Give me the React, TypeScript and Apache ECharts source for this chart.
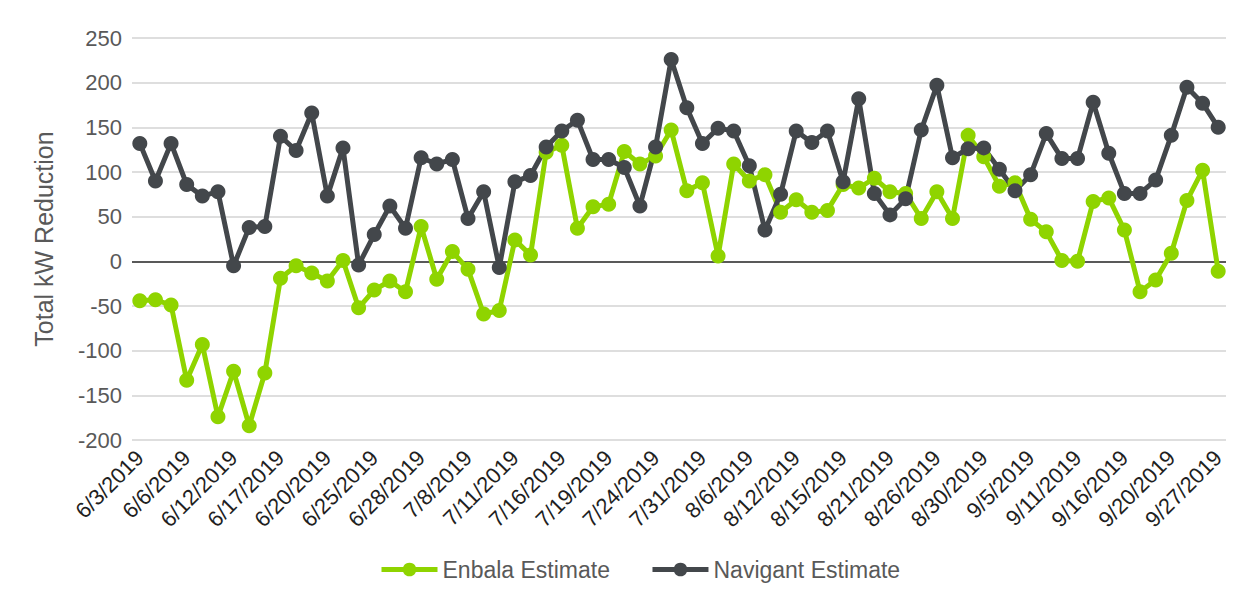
import React, { useEffect, useRef } from "react";
import * as echarts from "echarts";

// Event dates, summer 2019
const dates: string[] = [
  "6/3/2019", "6/4/2019", "6/5/2019", "6/6/2019", "6/7/2019", "6/11/2019",
  "6/12/2019", "6/13/2019", "6/14/2019", "6/17/2019", "6/18/2019", "6/19/2019",
  "6/20/2019", "6/21/2019", "6/24/2019", "6/25/2019", "6/26/2019", "6/27/2019",
  "6/28/2019", "7/1/2019", "7/2/2019", "7/8/2019", "7/9/2019", "7/10/2019",
  "7/11/2019", "7/12/2019", "7/15/2019", "7/16/2019", "7/17/2019", "7/18/2019",
  "7/19/2019", "7/22/2019", "7/23/2019", "7/24/2019", "7/25/2019", "7/30/2019",
  "7/31/2019", "8/1/2019", "8/5/2019", "8/6/2019", "8/7/2019", "8/8/2019",
  "8/12/2019", "8/13/2019", "8/14/2019", "8/15/2019", "8/19/2019", "8/20/2019",
  "8/21/2019", "8/22/2019", "8/23/2019", "8/26/2019", "8/27/2019", "8/28/2019",
  "8/30/2019", "9/3/2019", "9/4/2019", "9/5/2019", "9/6/2019", "9/10/2019",
  "9/11/2019", "9/12/2019", "9/13/2019", "9/16/2019", "9/17/2019", "9/18/2019",
  "9/20/2019", "9/24/2019", "9/25/2019", "9/27/2019",
];

// Total kW reduction per event
const enbala: number[] = [
  -44, -43, -49, -133, -93, -174, -123, -184, -125, -19,
  -5, -13, -22, 1, -52, -32, -22, -34, 39, -20,
  11, -9, -59, -55, 24, 7, 122, 130, 37, 61,
  64, 123, 109, 118, 147, 79, 88, 6, 109, 90,
  97, 55, 69, 55, 57, 86, 82, 93, 78, 76,
  48, 78, 48, 141, 117, 84, 88, 47, 33, 1,
  0, 67, 71, 35, -34, -21, 9, 68, 102, -11,
];

const navigant: number[] = [
  132, 90, 132, 86, 73, 78, -5, 38, 39, 140,
  124, 166, 73, 127, -4, 30, 62, 37, 116, 109,
  114, 48, 78, -7, 89, 96, 128, 146, 158, 114,
  114, 105, 62, 128, 226, 172, 132, 149, 146, 107,
  35, 75, 146, 133, 146, 89, 182, 76, 52, 70,
  147, 197, 116, 126, 127, 103, 79, 97, 143, 115,
  115, 178, 121, 76, 76, 91, 141, 195, 177, 150,
];

const seriesNames = ["Enbala Estimate", "Navigant Estimate"];
const yMin = -200;
const yMax = 250;
const yStep = 50;

const FONT = "'Liberation Sans', Arial, sans-serif";
const GREEN = "#8FD400";
const DARK = "#43474B";

export default function App() {
  const ref = useRef<HTMLDivElement>(null);

  useEffect(() => {
    document.body.style.margin = "0";
    if (!ref.current) return;
    const chart = echarts.init(ref.current, undefined, { renderer: "svg" });

    // one split line per tick; the zero line is drawn darker
    const tickCount = Math.round((yMax - yMin) / yStep) + 1;
    const gridColors: string[] = [];
    for (let k = 0; k < tickCount; k++) {
      gridColors.push(yMin + k * yStep === 0 ? "#595959" : "#DEDEDE");
    }

    const lineSeries = (name: string, data: number[], color: string) => ({
      name,
      type: "line",
      data,
      symbol: "circle",
      symbolSize: 15,
      showSymbol: true,
      showAllSymbol: true,
      itemStyle: { color },
      lineStyle: { color, width: 5 },
    });

    chart.setOption({
      animation: false,
      backgroundColor: "#FFFFFF",
      textStyle: { fontFamily: FONT },
      grid: { left: 132, right: 22, top: 38, bottom: 161, containLabel: false },
      legend: {
        data: seriesNames,
        left: 374,
        top: 553,
        itemWidth: 56,
        itemHeight: 17,
        itemGap: 40,
        lineStyle: { width: 5 },
        textStyle: { fontFamily: FONT, fontSize: 23, color: "#595959" },
      },
      xAxis: {
        type: "category",
        data: dates,
        boundaryGap: true,
        axisLine: { show: false },
        axisTick: { show: false },
        splitLine: { show: false },
        axisLabel: {
          interval: 2,
          rotate: 45,
          margin: 14,
          fontFamily: FONT,
          fontSize: 22,
          color: "#1F1F1F",
        },
      },
      yAxis: {
        type: "value",
        min: yMin,
        max: yMax,
        interval: yStep,
        name: "Total kW Reduction",
        nameLocation: "middle",
        nameRotate: 90,
        nameGap: 76,
        nameTextStyle: { fontFamily: FONT, fontSize: 25, color: "#595959" },
        axisLine: { show: false },
        axisTick: { show: false },
        axisLabel: { fontFamily: FONT, fontSize: 22, color: "#595959", margin: 10 },
        splitLine: { lineStyle: { color: gridColors, width: 2 } },
      },
      series: [
        lineSeries(seriesNames[0], enbala, GREEN),
        lineSeries(seriesNames[1], navigant, DARK),
      ],
    });

    return () => chart.dispose();
  }, []);

  return <div ref={ref} style={{ width: 1248, height: 601 }} />;
}
